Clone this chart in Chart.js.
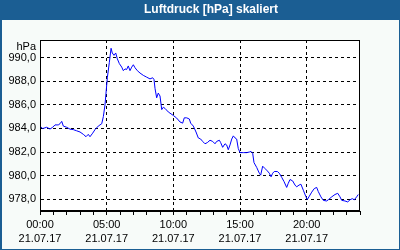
<!DOCTYPE html>
<html>
<head>
<meta charset="utf-8">
<script src="https://cdn.jsdelivr.net/npm/chart.js@4/dist/chart.umd.min.js"></script>
<style>
html,body{margin:0;padding:0;background:#f7fbf9;}
#wrap{width:400px;height:250px;position:relative;}
</style>
</head>
<body>
<div id="wrap"><canvas id="c" width="400" height="250"></canvas></div>
<script>
const chartTitle = 'Luftdruck [hPa] skaliert';
const unitLabel = 'hPa';
const dateLabel = '21.07.17';
const xTickHours = [0,1,2,3,4,5,6,7,8,9,10,11,12,13,14,15,16,17,18,19,20,21,22,23,24];
const xLabelHours = [0,5,10,15,20];
const xLabelTimes = ['00:00','05:00','10:00','15:00','20:00'];
const yTicks = [978,980,982,984,986,988,990];
const yMin = 977, yMax = 991.5;

const hours = [0.05,0.2,0.5,0.75,0.95,1.125,1.37,1.5,1.63,1.75,2.0,2.25,2.5,2.75,3.0,3.25,3.45,3.62,3.75,3.95,4.125,4.37,4.63,4.75,4.875,4.95,5.05,5.2,5.33,5.42,5.55,5.68,5.8,5.95,6.13,6.25,6.375,6.5,6.62,6.75,6.88,7.0,7.125,7.3,7.5,7.75,8.0,8.25,8.45,8.55,8.625,8.75,8.87,9.0,9.13,9.25,9.375,9.62,10.0,10.25,10.5,10.7,10.82,11.0,11.2,11.3,11.5,11.7,11.87,12.05,12.2,12.375,12.55,12.75,12.95,13.125,13.25,13.45,13.55,13.7,13.875,14.0,14.12,14.25,14.38,14.5,14.625,14.75,14.87,15.0,15.25,15.5,15.7,15.83,15.95,16.05,16.25,16.45,16.55,16.7,16.875,17.05,17.2,17.33,17.45,17.57,17.8,17.95,18.13,18.3,18.5,18.62,18.75,18.95,19.125,19.25,19.43,19.57,19.75,19.93,20.05,20.17,20.38,20.57,20.75,20.87,21.07,21.25,21.5,21.62,21.88,22.125,22.33,22.5,22.63,22.875,23.08,23.25,23.42,23.57,23.75,23.87];
const pressure = [984.16,983.99,984.1,983.95,984.1,984.3,984.3,984.4,984.6,984.2,984.1,983.94,983.9,983.8,983.7,983.5,983.3,983.5,983.3,983.6,983.9,984.2,984.4,985.0,986.0,987.0,988.3,989.6,990.8,990.4,990.2,990.4,989.9,989.5,989.2,988.9,989.05,989.0,989.3,988.9,989.2,989.4,989.15,988.9,988.7,988.5,988.35,988.2,988.3,988.15,987.4,986.6,987.0,986.75,985.6,985.8,985.7,985.4,985.1,984.88,984.55,984.45,984.9,984.9,984.8,984.45,984.2,983.7,983.2,983.1,982.9,982.7,982.8,983.0,982.9,982.7,982.9,983.0,982.8,982.4,982.7,982.6,982.2,982.6,983.1,983.37,983.2,983.1,982.3,981.95,981.95,981.95,982.0,982.05,981.9,981.1,980.7,980.2,980.04,980.8,980.6,980.4,980.2,979.9,980.2,980.35,980.35,980.2,979.85,979.5,979.0,979.35,979.67,979.55,979.2,979.05,979.2,979.27,978.76,978.25,977.97,978.2,978.6,978.9,979.0,978.65,978.2,977.9,977.85,977.95,978.2,978.4,978.5,978.2,977.9,977.85,977.77,977.95,978.05,977.95,978.2,978.4];

const FONT = '"Liberation Sans", Arial, sans-serif';

const decor = {
  id: 'decor',
  beforeDraw(chart) {
    const ctx = chart.ctx, W = chart.width, H = chart.height, a = chart.chartArea;
    ctx.save();
    ctx.fillStyle = '#1b5e93';
    ctx.fillRect(0, 0, W, H);
    ctx.fillStyle = '#f7fbf9';
    ctx.fillRect(2, 20, W - 3, H - 21);
    ctx.fillStyle = '#ffffff';
    ctx.fillRect(a.left, a.top, a.right - a.left, a.bottom - a.top);
    ctx.fillStyle = '#ffffff';
    ctx.font = 'bold 12px ' + FONT;
    ctx.textAlign = 'center';
    ctx.textBaseline = 'middle';
    ctx.fillText(chartTitle, 211, 10);
    ctx.fillStyle = '#000000';
    ctx.font = '11px ' + FONT;
    ctx.textAlign = 'right';
    ctx.textBaseline = 'alphabetic';
    ctx.fillText(unitLabel, a.left - 4, 50);
    ctx.restore();
  },
  afterDraw(chart) {
    const ctx = chart.ctx, a = chart.chartArea;
    ctx.save();
    ctx.strokeStyle = '#000000';
    ctx.lineWidth = 1;
    ctx.strokeRect(Math.round(a.left) + 0.5, Math.round(a.top) + 0.5, Math.round(a.right - a.left) - 1, Math.round(a.bottom - a.top) - 1);
    ctx.restore();
  }
};

new Chart(document.getElementById('c'), {
  type: 'line',
  data: {
    datasets: [{
      data: hours.map((h, i) => ({x: h, y: pressure[i]})),
      borderColor: '#0000ff',
      borderWidth: 1,
      pointRadius: 0,
      tension: 0,
      fill: false
    }]
  },
  options: {
    responsive: false,
    animation: false,
    devicePixelRatio: 1,
    layout: {padding: {top: 40, right: 40, left: 0, bottom: 0}},
    plugins: {legend: {display: false}, tooltip: {enabled: false}, title: {display: false}},
    scales: {
      x: {
        type: 'linear',
        min: 0, max: 24,
        afterBuildTicks: s => { s.ticks = xTickHours.map(v => ({value: v})); },
        afterFit: s => { s.height = 39; },
        grid: {
          color: c => (c.tick && xLabelHours.includes(c.tick.value) && c.tick.value !== 0) ? '#000000' : 'rgba(0,0,0,0)',
          tickColor: '#000000',
          tickLength: 4,
          tickBorderDash: [],
          lineWidth: 1
        },
        border: {display: true, color: '#000000', width: 1, dash: [3, 3]},
        ticks: {
          autoSkip: false,
          maxRotation: 0,
          padding: 3,
          color: '#000000',
          font: {family: FONT, size: 11, lineHeight: '14px'},
          callback: v => {
            const i = xLabelHours.indexOf(v);
            return i >= 0 ? [xLabelTimes[i], dateLabel] : '';
          }
        }
      },
      y: {
        min: yMin, max: yMax,
        afterBuildTicks: s => { s.ticks = yTicks.map(v => ({value: v})); },
        afterFit: s => { s.width = 40; },
        grid: {color: '#000000', lineWidth: 1, drawTicks: false},
        border: {display: true, color: '#000000', width: 1, dash: [3, 3]},
        ticks: {
          padding: 4,
          color: '#000000',
          font: {family: FONT, size: 11},
          callback: v => v.toFixed(1).replace('.', ',')
        }
      }
    }
  },
  plugins: [decor]
});
</script>
</body>
</html>
